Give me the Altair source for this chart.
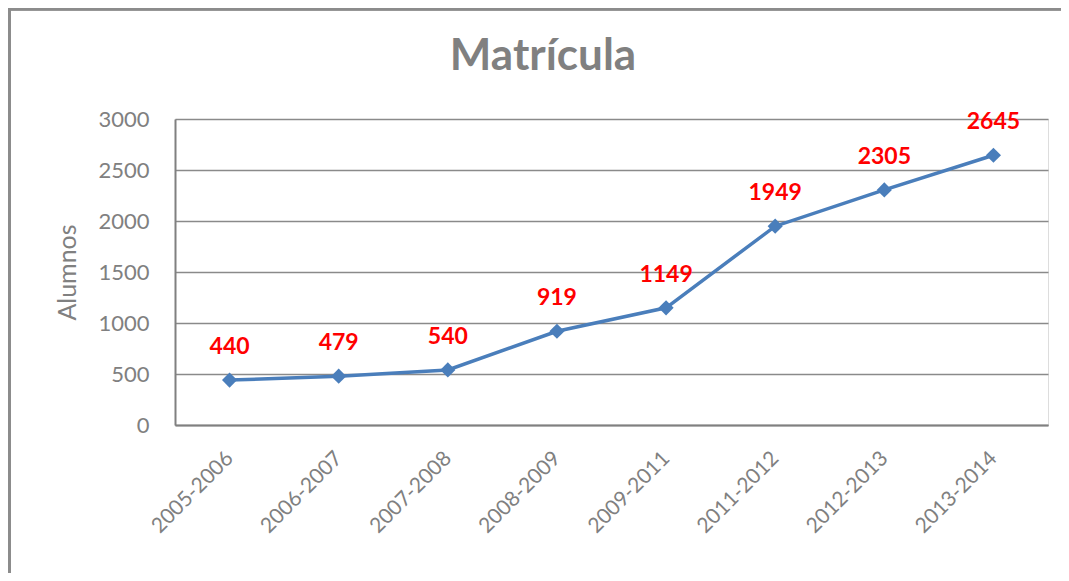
import altair as alt
import pandas as pd

years = ["2005-2006", "2006-2007", "2007-2008", "2008-2009",
         "2009-2011", "2011-2012", "2012-2013", "2013-2014"]
alumnos = [440, 479, 540, 919, 1149, 1949, 2305, 2645]
title_text = ["Matrícula"]

df = pd.DataFrame({"year": years, "alumnos": alumnos})

FONT = "Lato"
GRAY = "#808080"
BLUE = "#4a7ebb"

x = alt.X("year:N", sort=years, title=None,
          scale=alt.Scale(type="point", padding=0.5),
          axis=alt.Axis(labelAngle=-45, labelAlign="right", labelBaseline="middle",
                        labelPadding=30, labelFontSize=21, labelColor=GRAY,
                        labelFont=FONT, ticks=False, domainColor=GRAY,
                        domainWidth=2, grid=False))
y = alt.Y("alumnos:Q", title="Alumnos",
          scale=alt.Scale(domain=[0, 3000], nice=False),
          axis=alt.Axis(values=[0, 500, 1000, 1500, 2000, 2500, 3000], format="d",
                        labelFontSize=22, labelColor=GRAY, labelFont=FONT,
                        labelPadding=26, ticks=False, domainColor=GRAY,
                        domainWidth=2, gridColor="#8a8a8a", gridWidth=1.6,
                        titleFont=FONT, titleFontSize=25, titleFontWeight="normal",
                        titleColor=GRAY, titlePadding=17))

base = alt.Chart(df)
line = base.mark_line(color=BLUE, strokeWidth=3.5).encode(x=x, y=y)
pts = base.mark_point(shape="diamond", filled=True, size=230, color=BLUE, opacity=1).encode(x=x, y=y)
labels = base.mark_text(color="#ff0000", fontWeight="bold", fontSize=23, font=FONT,
                        dy=-33, baseline="middle").encode(
    x=x, y=y, text=alt.Text("alumnos:Q", format="d"))

title = alt.Chart(pd.DataFrame({"t": title_text})).mark_text(
    font=FONT, fontSize=44, fontWeight="bold", color=GRAY, baseline="alphabetic"
).encode(x=alt.value(368), y=alt.value(-49), text="t:N")

frame_left = alt.Chart(df).mark_rule(color="#8c8c8c", strokeWidth=2.5).encode(
    x=alt.value(-165.5), y=alt.value(-110.5), y2=alt.value(470))
frame_top = alt.Chart(df).mark_rule(color="#8c8c8c", strokeWidth=2.5).encode(
    x=alt.value(-166.5), x2=alt.value(900), y=alt.value(-110))

chart = alt.layer(frame_left, frame_top, line, pts, labels, title).properties(
    width=873, height=306,
    autosize=alt.AutoSizeParams(type="none"),
    padding={"left": 167, "top": 111, "right": 13, "bottom": 148},
).configure_view(stroke=None).configure(background="white")

chart.save("out.html", embed_options={"renderer": "svg", "actions": False})
